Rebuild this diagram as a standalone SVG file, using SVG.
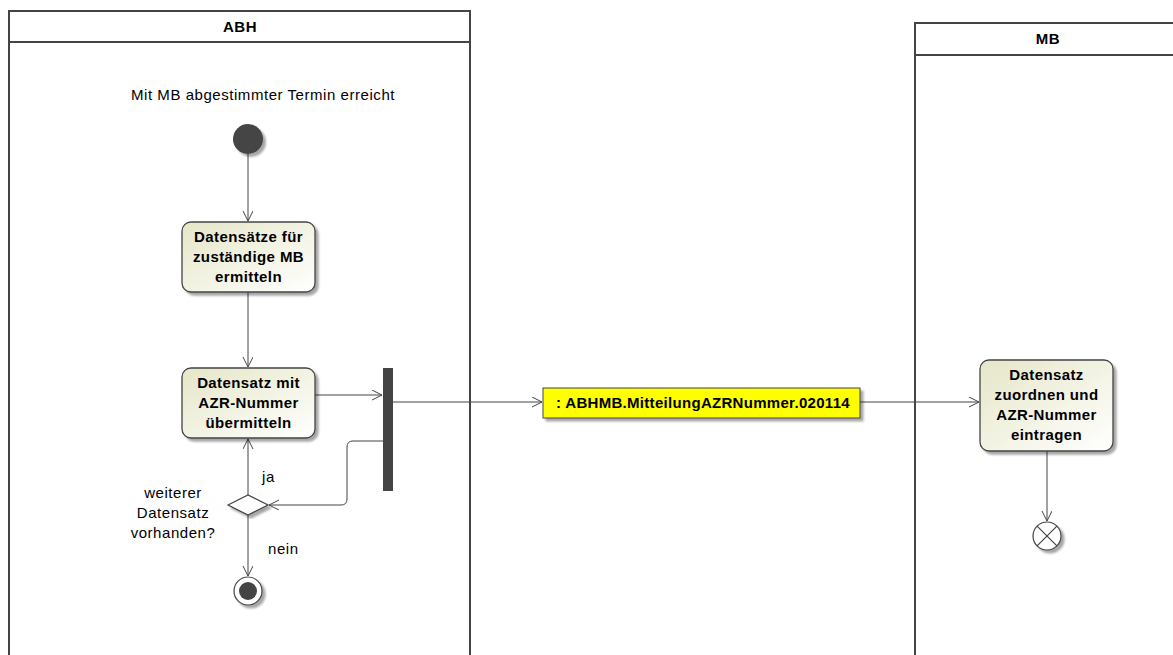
<svg xmlns="http://www.w3.org/2000/svg" width="1173" height="655" viewBox="0 0 1173 655">
<defs>
<linearGradient id="g" x1="0" y1="0" x2="1" y2="1">
<stop offset="0" stop-color="#e6e6c8"/>
<stop offset="1" stop-color="#ffffff"/>
</linearGradient>
<filter id="sh" x="-20%" y="-20%" width="140%" height="140%">
<feGaussianBlur in="SourceAlpha" stdDeviation="1.2"/>
<feOffset dx="3" dy="3"/>
<feComponentTransfer><feFuncA type="linear" slope="0.35"/></feComponentTransfer>
<feMerge><feMergeNode/><feMergeNode in="SourceGraphic"/></feMerge>
</filter>
<marker id="ah" markerWidth="12" markerHeight="12" refX="10" refY="5" orient="auto" markerUnits="userSpaceOnUse">
<path d="M0,0 L10,5 L0,10" fill="none" stroke="#444" stroke-width="1"/>
</marker>
</defs>
<style>
text{font-family:"Liberation Sans",Arial,sans-serif;fill:#000}
.lane{fill:none;stroke:#444;stroke-width:2}
.lt{font-size:15px;font-weight:bold;text-anchor:middle;letter-spacing:0.5px}
.act{fill:url(#g);stroke:#444;stroke-width:1.3}
.at{font-size:15px;font-weight:bold;text-anchor:middle;letter-spacing:0.4px}
.lbl{font-size:15px;letter-spacing:0.55px}
.c{fill:none;stroke:#444;stroke-width:1}
</style>
<rect width="1173" height="655" fill="#fff"/>
<g id="lane-abh">
<path class="lane" d="M9,660 L9,11 L470,11 L470,660"/>
<line class="lane" x1="9" y1="42" x2="470" y2="42"/>
<text class="lt" x="240" y="32">ABH</text>
</g>
<g id="lane-mb">
<path class="lane" d="M915,660 L915,23 L1180,23"/>
<line class="lane" x1="915" y1="55" x2="1180" y2="55"/>
<text class="lt" x="1048" y="44">MB</text>
</g>
<g id="connectors">
<path class="c" d="M248,154 L248,221" marker-end="url(#ah)"/>
<path class="c" d="M248,292 L248,367" marker-end="url(#ah)"/>
<path class="c" d="M315,395 L382,395" marker-end="url(#ah)"/>
<path class="c" d="M393,402 L542,402" marker-end="url(#ah)"/>
<path class="c" d="M860,402 L979,402" marker-end="url(#ah)"/>
<path class="c" d="M1047,451 L1047,521" marker-end="url(#ah)"/>
<path class="c" d="M383,441 L353,441 Q347,441 347,447 L347,499 Q347,505 341,505 L269,505" marker-end="url(#ah)"/>
<path class="c" d="M248,495 L248,439" marker-end="url(#ah)"/>
<path class="c" d="M248,515 L248,576" marker-end="url(#ah)"/>
<text class="lbl" x="262" y="482">ja</text>
<text class="lbl" x="268" y="554">nein</text>
</g>
<g id="start">
<text class="lbl" x="263" y="100" text-anchor="middle">Mit MB abgestimmter Termin erreicht</text>
<circle cx="248" cy="139" r="15" fill="#444" filter="url(#sh)"/>
</g>
<g id="act1">
<rect class="act" x="182" y="222" width="133" height="70" rx="9" filter="url(#sh)"/>
<text class="at" x="248.5" y="242">Datensätze für</text>
<text class="at" x="248.5" y="262">zuständige MB</text>
<text class="at" x="248.5" y="282">ermitteln</text>
</g>
<g id="act2">
<rect class="act" x="182" y="368" width="133" height="70" rx="9" filter="url(#sh)"/>
<text class="at" x="248.5" y="388">Datensatz mit</text>
<text class="at" x="248.5" y="408">AZR-Nummer</text>
<text class="at" x="248.5" y="428">übermitteln</text>
</g>
<g id="fork">
<rect x="383" y="368" width="10" height="123" fill="#444"/>
</g>
<g id="object">
<rect x="543" y="388" width="317" height="30" fill="#ffff00" stroke="#444" stroke-width="1" filter="url(#sh)"/>
<text x="703" y="408" font-size="15" font-weight="bold" text-anchor="middle" letter-spacing="0.3">: ABHMB.MitteilungAZRNummer.020114</text>
</g>
<g id="decision">
<path d="M228,505 L248,495 L268,505 L248,515 Z" fill="#fff" stroke="#444" stroke-width="1.2" filter="url(#sh)"/>
<text class="lbl" x="173" y="498" text-anchor="middle">weiterer</text>
<text class="lbl" x="173" y="518" text-anchor="middle">Datensatz</text>
<text class="lbl" x="173" y="538" text-anchor="middle">vorhanden?</text>
</g>
<g id="end">
<circle cx="248" cy="591" r="14" fill="#fff" stroke="#444" stroke-width="1.2" filter="url(#sh)"/>
<circle cx="248" cy="591" r="9" fill="#444"/>
</g>
<g id="act3">
<rect class="act" x="980" y="360" width="133" height="91" rx="9" filter="url(#sh)"/>
<text class="at" x="1046.5" y="380">Datensatz</text>
<text class="at" x="1046.5" y="400">zuordnen und</text>
<text class="at" x="1046.5" y="420">AZR-Nummer</text>
<text class="at" x="1046.5" y="440">eintragen</text>
</g>
<g id="flowfinal">
<circle cx="1047" cy="536" r="14" fill="#fff" stroke="#444" stroke-width="1.2" filter="url(#sh)"/>
<path d="M1037.1,526.1 L1056.9,545.9 M1056.9,526.1 L1037.1,545.9" stroke="#444" stroke-width="1.2"/>
</g>
</svg>
